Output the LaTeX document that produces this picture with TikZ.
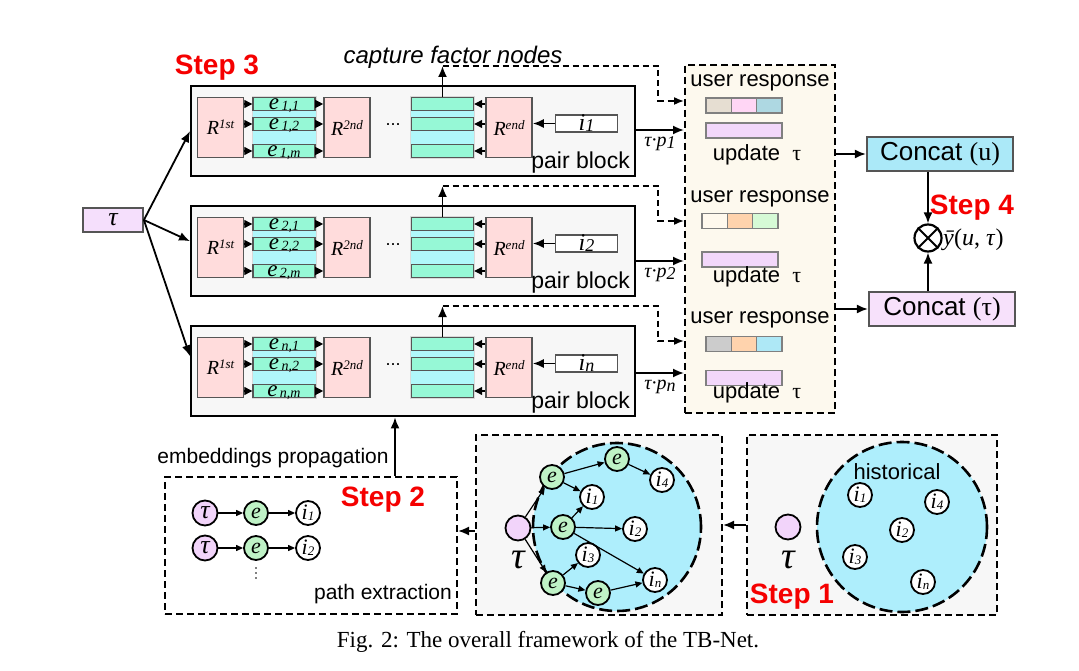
\documentclass[tikz,border=0pt]{standalone}
\usepackage{fontspec}
\setmainfont{Liberation Sans}
\newfontfamily\tms{Liberation Serif}
\usetikzlibrary{arrows.meta}
\newcommand\fsz[1]{\fontsize{#1}{#1}\selectfont}
\definecolor{blockgray}{HTML}{F7F7F7}
\definecolor{rpink}{HTML}{FFDCDC}
\definecolor{eaqua}{HTML}{96F8D6}
\definecolor{stackcyan}{HTML}{B0F7FA}
\definecolor{boxgray}{HTML}{555555}
\definecolor{taupink}{HTML}{F5DFFC}
\definecolor{cream}{HTML}{FDF9EE}
\definecolor{beigec}{HTML}{E6DED2}
\definecolor{pinkc}{HTML}{FFD6F5}
\definecolor{bluec}{HTML}{AED8E2}
\definecolor{whitec}{HTML}{FFF9EE}
\definecolor{peachc}{HTML}{FFD3AD}
\definecolor{lgreenc}{HTML}{D6FAD6}
\definecolor{grayc}{HTML}{CCCCCC}
\definecolor{cyanc}{HTML}{AEE8F6}
\definecolor{purpc}{HTML}{F2D7FA}
\definecolor{concatu}{HTML}{ABE9F8}
\definecolor{concatt}{HTML}{F7E1FB}
\definecolor{circcyan}{HTML}{AEEEFC}
\definecolor{gnodec}{HTML}{BFF2C6}
\definecolor{pnodec}{HTML}{F2D4FA}
\definecolor{stepred}{HTML}{F50000}
\begin{document}
\begin{tikzpicture}[x=1pt,y=-1pt,
  pblock/.style={draw=black, line width=2.4pt, fill=blockgray, minimum width=444pt, minimum height=90pt, inner sep=0pt},
  rbox/.style={draw=boxgray, line width=1.6pt, fill=rpink, minimum width=46pt, minimum height=60pt, inner sep=0pt, font={\tms\itshape\fsz{20}}},
  estack/.style={fill=stackcyan, draw=gray!30, line width=0.8pt, minimum width=64pt, minimum height=62pt, inner sep=0pt},
  erow/.style={draw=boxgray, line width=1.4pt, fill=eaqua, minimum width=62pt, minimum height=13pt, inner sep=0pt},
  etext/.style={anchor=base, inner sep=0pt, font={\tms\itshape\fsz{23}}},
  ibox/.style={draw=boxgray, line width=1.6pt, fill=white, minimum width=62pt, minimum height=15pt, inner sep=0pt, font={\tms\itshape\fsz{24}}},
  tri/.style={-{Triangle[length=8pt,width=8pt]}, line width=1.2pt},
  arr/.style={-{Latex[length=11pt,width=9pt]}, line width=1.8pt},
  darr/.style={-{Latex[length=10pt,width=8pt]}, line width=1.6pt, dash pattern=on 6pt off 4pt},
  dbox/.style={draw=black, line width=2pt, dash pattern=on 7pt off 4pt, inner sep=0pt},
  urtxt/.style={inner sep=0pt, font=\fsz{22}},
  cell/.style={draw=gray, line width=1.2pt, minimum width=25.3pt, minimum height=15pt, inner sep=0pt, outer sep=0pt},
  pbar/.style={draw=gray, line width=1.2pt, fill=purpc, minimum width=76pt, minimum height=15pt, inner sep=0pt},
  cbox/.style={draw=boxgray, line width=2.2pt, minimum width=146pt, minimum height=34pt, inner sep=0pt, font=\fsz{26}},
  steptxt/.style={text=stepred, font={\bfseries\fsz{28}}, inner sep=0pt},
  smallnode/.style={circle, draw=black, line width=1.8pt, minimum size=24pt, inner sep=0pt, font={\tms\itshape\fsz{22}}},
  gn/.style={smallnode, fill=gnodec},
  wn/.style={smallnode, fill=white},
  pn/.style={smallnode, fill=pnodec, minimum size=25pt},
  sarr/.style={-{Triangle[length=7pt,width=6pt]}, line width=1.2pt},
  bigtau/.style={inner sep=0pt, font={\tms\itshape\fsz{38}}},
]
\useasboundingbox (0,0) rectangle (1079,671);

% ---------- right collection box ----------
\node[dbox, fill=cream, minimum width=150pt, minimum height=348pt] (ur) at (760,239) {};

% ---------- pair blocks ----------
\foreach \b/\yy/\s/\py in {1/85/1/45, 2/205/2/56, 3/325/n/48} {
  \node[pblock, anchor=north west] (blk\b) at (190,\yy) {};
  \node[rbox] (ra\b) at (220.5,{\yy+42.5}) {R\raisebox{6pt}{\fsz{13}1st}};
  \node[estack] (es\b) at (284,{\yy+42.5}) {};
  \node[erow] (e\b1) at (284,{\yy+19}) {};
  \node[erow] (e\b2) at (284,{\yy+39}) {};
  \node[erow] (e\b3) at (284,{\yy+66}) {};
  \node[etext] (et\b1) at ([yshift=2pt]e\b1.south) {e\raisebox{-1.5pt}{\fsz{14}\,\s,1}};
  \node[etext] (et\b2) at ([yshift=2pt]e\b2.south) {e\raisebox{-1.5pt}{\fsz{14}\,\s,2}};
  \node[etext] (et\b3) at ([yshift=2pt]e\b3.south) {e\raisebox{-1.5pt}{\fsz{14}\,\s,m}};
  \node[rbox] (rb\b) at (347,{\yy+42.5}) {R\raisebox{6pt}{\fsz{13}2nd}};
  \node[inner sep=0pt, font=\fsz{18}] (dt\b) at (393,{\yy+40}) {...};
  \node[estack] (fs\b) at (442.5,{\yy+42.5}) {};
  \node[erow] (f\b1) at (442.5,{\yy+19}) {};
  \node[erow] (f\b2) at (442.5,{\yy+39}) {};
  \node[erow] (f\b3) at (442.5,{\yy+66}) {};
  \node[rbox] (rc\b) at (509,{\yy+42.5}) {R\raisebox{6pt}{\fsz{13}end}};
  \node[ibox] (ib\b) at (586.5,{\yy+38.5}) {i\raisebox{-1pt}{\fsz{18}\s}};
  \node[anchor=south east, inner sep=0pt, font=\fsz{23}] (pl\b) at (630,{\yy+88}) {pair block};
  \foreach \r in {1,2,3} {
    \draw[tri] (ra\b.east |- e\b\r) -- (e\b\r.west);
    \draw[tri] (e\b\r.east) -- (rb\b.west |- e\b\r);
    \draw[tri] (rc\b.west |- f\b\r) -- (f\b\r.east);
  }
  \draw[arr] (ib\b.west) -- (rc\b.east |- ib\b);
  % capture arrow and dashed link
  \coordinate (cap\b) at (442.5,{\yy-19});
  \coordinate (bu\b) at (658,{\yy-19});
  \coordinate (bd\b) at (658,{\yy+16});
  \draw[arr] (f\b1.north) -- (cap\b);
  \draw[darr] (cap\b) -- (bu\b) -- (bd\b) -- (ur.west |- bd\b);
  % tau p arrow
  \coordinate (tp\b) at (634,{\yy+\py});
  \draw[arr] (blk\b.east |- tp\b) -- (ur.west |- tp\b);
  \node[inner sep=0pt, font={\tms\itshape\fsz{20}}] (tl\b) at (660,{\yy+\py+14}) {τ·p\raisebox{-2pt}{\fsz{18}\s}};
}

% ---------- left tau ----------
\node[draw=boxgray, line width=1.8pt, fill=taupink, minimum width=60pt, minimum height=24pt, inner sep=0pt, font={\tms\itshape\fsz{26}}] (t0) at (113,220) {τ};
\draw[arr] (t0.east) -- (blk1.west);
\draw[arr] (t0.east) -- ([yshift=10pt]blk2.west);
\draw[arr] (t0.east) -- ([yshift=15pt]blk3.west);

\node[steptxt] (s3) at (217,68) {Step 3};
\node[inner sep=0pt, font={\itshape\fsz{24}}] (cfn) at (453,57) {capture factor nodes};

% ---------- right box contents ----------
\foreach \g/\ly/\bx/\by/\qy/\uy/\ca/\cb/\cc in {1/83/744/105.5/130.5/155/beigec/pinkc/bluec, 2/199/740/221/259.5/277/whitec/peachc/lgreenc, 3/320/744/344/378/393/grayc/peachc/cyanc}{
  \node[urtxt] (ut\g) at (760,\ly) {user response};
  \node[cell, fill=\cb] (cb\g) at (\bx,\by) {};
  \node[cell, fill=\ca, anchor=east] (ca\g) at (cb\g.west) {};
  \node[cell, fill=\cc, anchor=west] (cc\g) at (cb\g.east) {};
  \node[pbar] (pb\g) at (\bx,\qy) {};
  \node[urtxt] (up\g) at (757,\uy) {update\ \ {\tms τ}};
}

% ---------- concat & output ----------
\node[cbox, fill=concatu] (cu) at (940,154) {Concat {\tms(u)}};
\node[cbox, fill=concatt] (ct) at (942,309) {Concat {\tms(τ)}};
\draw[arr] (ur.east |- cu) -- (cu.west);
\draw[arr] (ur.east |- ct) -- (ct.west);
\node[circle, draw=black, line width=2.2pt, minimum size=27pt, inner sep=0pt] (ot) at (928,238) {};
\draw[line width=2pt] (ot.45) -- (ot.225) (ot.135) -- (ot.315);
\draw[arr] (cu.south -| ot) -- (ot.north);
\draw[arr] (ct.north -| ot) -- (ot.south);
\node[steptxt] (s4) at (972,208) {Step 4};
\node[anchor=west, inner sep=0pt, font={\tms\fsz{24}}] (yh) at (943,240) {\textit{\={y}}(\textit{u},\ \textit{τ})};

% ---------- bottom boxes ----------
\node[dbox, fill=white, minimum width=292pt, minimum height=137pt] (box2) at (311,545.5) {};
\node[dbox, fill=blockgray, minimum width=246pt, minimum height=180pt] (box3) at (599,525) {};
\node[dbox, fill=blockgray, minimum width=250pt, minimum height=180pt] (box4) at (872,525) {};

\coordinate (ep) at (395,0);
\draw[arr] (box2.north -| ep) -- (blk3.south -| ep);
\node[inner sep=0pt, font=\fsz{21}] (emb) at (273,458) {embeddings propagation};
\draw[arr] (box4.west) -- (box3.east);
\draw[arr] ([yshift=-6pt]box3.west) -- ([yshift=-6pt]box3.west -| box2.east);

% step 2 content
\node[steptxt] (s2) at (383,500) {Step 2};
\node[pn, font={\tms\itshape\fsz{26}}] (pa1) at (205,513) {τ};
\node[gn] (pb1) at (256,513) {e};
\node[wn] (pc1) at (308,513) {i\raisebox{-1pt}{\fsz{13}1}};
\node[pn, font={\tms\itshape\fsz{26}}] (pa2) at (205,548) {τ};
\node[gn] (pb2) at (256,548) {e};
\node[wn] (pc2) at (308,548) {i\raisebox{-1pt}{\fsz{13}2}};
\draw[sarr] (pa1) -- (pb1);
\draw[sarr] (pb1) -- (pc1);
\draw[sarr] (pa2) -- (pb2);
\draw[sarr] (pb2) -- (pc2);
\foreach \dy in {568,573,578} { \fill (256,\dy) circle (0.9pt); }
\node[inner sep=0pt, font=\fsz{21}] (pex) at (383,594) {path extraction};

% middle graph
\node[circle, draw=black, fill=circcyan, line width=2.6pt, dash pattern=on 13pt off 5pt, minimum size=168pt] (mc) at (617,527) {};
\node[pn] (mtau) at (518,528) {};
\node[bigtau] (mtl) at (518,560) {τ};
\node[gn] (me1) at (552,477) {e};
\node[gn] (me2) at (617,459) {e};
\node[wn] (mi4) at (662,480) {i\raisebox{-1pt}{\fsz{13}4}};
\node[wn] (mi1) at (592,497) {i\raisebox{-1pt}{\fsz{13}1}};
\node[gn] (me3) at (563,527) {e};
\node[wn] (mi2) at (635,529) {i\raisebox{-1pt}{\fsz{13}2}};
\node[wn] (mi3) at (588,555) {i\raisebox{-1pt}{\fsz{13}3}};
\node[gn] (me4) at (553,583) {e};
\node[gn] (me5) at (598,593) {e};
\node[wn] (min) at (655,580) {i\raisebox{-1pt}{\fsz{13}n}};
\draw[sarr] (mtau) -- (me1);
\draw[sarr] (mtau) -- (me3);
\draw[sarr] (mtau) -- (me4);
\draw[sarr] (me1) -- (me2);
\draw[sarr] (me1) -- (mi1);
\draw[sarr] (me2) -- (mi4);
\draw[sarr] (me3) -- (mi1);
\draw[sarr] (me3) -- (mi2);
\draw[sarr] (me3) -- (min);
\draw[sarr] (me4) -- (mi3);
\draw[sarr] (me4) -- (me5);
\draw[sarr] (me5) -- (min);

% right (step 1)
\node[circle, draw=black, fill=circcyan, line width=2.6pt, dash pattern=on 13pt off 5pt, minimum size=170pt] (hc) at (902,527) {};
\node[inner sep=0pt, font=\fsz{22}] (hist) at (897,472) {historical};
\node[pn] (htau) at (788,527) {};
\node[bigtau] (htl) at (788,560) {τ};
\node[wn] (hi1) at (860,495) {i\raisebox{-1pt}{\fsz{13}1}};
\node[wn] (hi4) at (937,502) {i\raisebox{-1pt}{\fsz{13}4}};
\node[wn] (hi2) at (902,530) {i\raisebox{-1pt}{\fsz{13}2}};
\node[wn] (hi3) at (855,557) {i\raisebox{-1pt}{\fsz{13}3}};
\node[wn] (hin) at (923,582) {i\raisebox{-1pt}{\fsz{13}n}};
\node[steptxt] (s1) at (792,597) {Step 1};

% caption
\node[inner sep=0pt, font={\tms\fsz{23}}] (cap) at (548,642) {Fig. 2: The overall framework of the TB-Net.};
\end{tikzpicture}
\end{document}
